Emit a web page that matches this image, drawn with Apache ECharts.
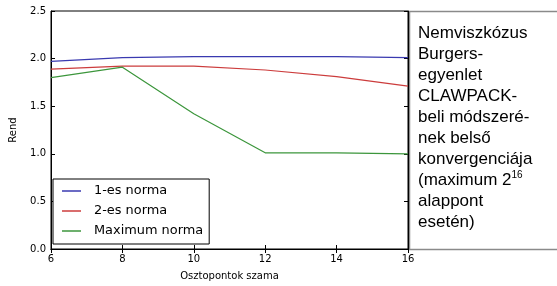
<!DOCTYPE html>
<html>
<head>
<meta charset="utf-8">
<script src="https://cdn.jsdelivr.net/npm/echarts@6/dist/echarts.min.js"></script>
<style>
html,body{margin:0;padding:0;background:#fff;}
#chart{width:557px;height:286px;}
</style>
</head>
<body>
<div id="chart"></div>
<script>
var xValues = [6, 8, 10, 12, 14, 16];
var norm1 = [1.97, 2.01, 2.02, 2.02, 2.02, 2.01];
var norm2 = [1.89, 1.92, 1.92, 1.88, 1.81, 1.71];
var normMax = [1.80, 1.91, 1.42, 1.01, 1.01, 1.00];
var seriesNames = ['1-es norma', '2-es norma', 'Maximum norma'];
var xTitle = 'Osztopontok szama';
var yTitle = 'Rend';
var sideLines = ['Nemviszkózus', 'Burgers-', 'egyenlet', 'CLAWPACK-', 'beli módszeré-', 'nek belső', 'konvergenciája', '(maximum 2{sup|16}', 'alappont', 'esetén)'];

function pairs(vals){ return xValues.map(function(x,i){ return [x, vals[i]]; }); }

var chart = echarts.init(document.getElementById('chart'), null, {renderer:'canvas'});
var font = 'DejaVu Sans';
var gridBox = {left:48, top:11, width:360, height:240};
var tickStyle = {show:true, inside:true, length:4, lineStyle:{color:'#000', width:1}};
chart.setOption({
  animation:false,
  backgroundColor:'#fff',
  title:{
    text: sideLines.join('\n'),
    left: 418, top: 23,
    padding: 0,
    textStyle:{
      fontFamily:'Liberation Sans', fontSize:17, fontWeight:'normal', color:'#000', lineHeight:21,
      rich:{ sup:{fontFamily:'Liberation Sans', fontSize:10, color:'#000', verticalAlign:'top', lineHeight:21, padding:[0,0,9,0]} }
    }
  },
  graphic:[{
    type:'rect', shape:{x:409.5, y:11.5, width:160, height:238}, silent:true,
    style:{fill:'none', stroke:'#8a8a8a', lineWidth:1.5}
  }],
  grid:Object.assign({show:true, borderColor:'#000', borderWidth:1, backgroundColor:'transparent'}, gridBox),
  legend:{
    data: seriesNames,
    orient:'vertical',
    left:53, top:179,
    padding:[5,6,6,9],
    itemGap:6,
    itemWidth:19, itemHeight:1.5,
    icon:'rect',
    borderColor:'#000', borderWidth:1, backgroundColor:'#fff',
    textStyle:{fontFamily:font, fontSize:12.9, color:'#000', lineHeight:14, padding:[0,0,0,8]}
  },
  xAxis:[{
    type:'value', min:6, max:16, interval:2,
    name:xTitle, nameLocation:'middle', nameGap:22,
    nameTextStyle:{fontFamily:font, fontSize:10, color:'#000'},
    axisLine:{show:true, lineStyle:{color:'#000'}},
    axisTick:tickStyle,
    axisLabel:{fontFamily:font, fontSize:10, color:'#000', margin:5},
    splitLine:{show:false}
  },{
    type:'value', position:'top', min:6, max:16, interval:2,
    axisLine:{show:true, lineStyle:{color:'#000'}},
    axisTick:tickStyle, axisLabel:{show:false}, splitLine:{show:false}
  }],
  yAxis:[{
    type:'value', min:0, max:2.5, interval:0.5,
    name:yTitle, nameLocation:'middle', nameGap:33, nameRotate:90,
    nameTextStyle:{fontFamily:font, fontSize:10, color:'#000'},
    axisLine:{show:true, lineStyle:{color:'#000'}},
    axisTick:tickStyle,
    axisLabel:{fontFamily:font, fontSize:10, color:'#000', margin:5, formatter:function(v){return v.toFixed(1);}},
    splitLine:{show:false}
  },{
    type:'value', position:'right', min:0, max:2.5, interval:0.5,
    axisLine:{show:true, lineStyle:{color:'#000'}},
    axisTick:tickStyle, axisLabel:{show:false}, splitLine:{show:false}
  }],
  series:[
    {name:seriesNames[0], type:'line', data:pairs(norm1), symbol:'none', color:'#3a3ab0', lineStyle:{width:1.2, color:'#3a3ab0'}},
    {name:seriesNames[1], type:'line', data:pairs(norm2), symbol:'none', color:'#cc3c3c', lineStyle:{width:1.2, color:'#cc3c3c'}},
    {name:seriesNames[2], type:'line', data:pairs(normMax), symbol:'none', color:'#3c963c', lineStyle:{width:1.2, color:'#3c963c'}}
  ]
});
</script>
</body>
</html>
